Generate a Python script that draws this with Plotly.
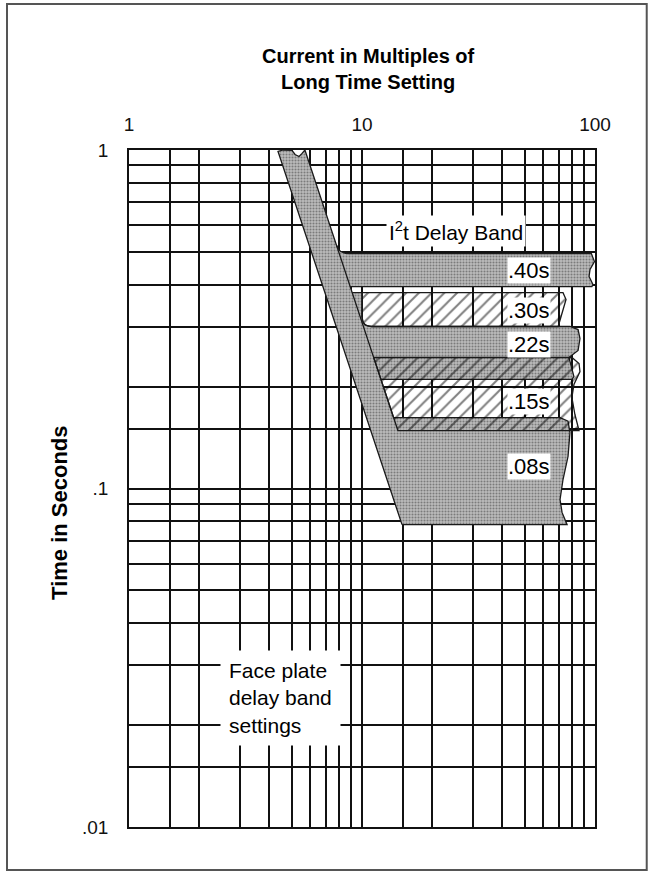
import numpy as np
import plotly.graph_objects as go

FONT = "Liberation Sans, Arial, Helvetica, sans-serif"

# ---------------- axes / grid values ----------------
grid_current = [1, 1.5, 2, 3, 4, 5, 6, 7, 8, 9, 10, 15, 20, 30, 40, 50, 60, 70, 80, 90, 100]
grid_time = [0.01, 0.015, 0.02, 0.03, 0.04, 0.05, 0.06, 0.07, 0.08, 0.09,
             0.1, 0.15, 0.2, 0.3, 0.4, 0.5, 0.6, 0.7, 0.8, 0.9, 1]
current_ticks = [1, 10, 100]
current_tick_text = ["1", "10", "100"]
time_ticks = [0.01, 0.1, 1]
time_tick_text = [".01", ".1", "1"]

# ---------------- long time pickup band (diagonal) ----------------
pickup_time = [1.0, 0.0782]
pickup_low = [4.36, 14.85]
pickup_high = [5.69, 19.4]
notch_current = [5.53, 5.37, 5.16, 5.01, 4.58]
notch_time = [0.977, 0.957, 0.970, 0.997, 1.0]

# ---------------- I2t delay bands ----------------
band_labels = [".40s", ".30s", ".22s", ".15s", ".08s"]
band_top = [0.494, 0.379, 0.301, 0.2438, 0.162]
band_bottom = [0.395, 0.301, 0.210, 0.1483, 0.0782]
band_hatched = [False, True, False, True, False]
label_time = [0.44, 0.336, 0.266, 0.181, 0.116]
label_current = 52

right40_current = [96.5, 99.5, 95.2, 94.3, 98.0, 97.0]
right40_time = [0.494, 0.468, 0.4436, 0.423, 0.4006, 0.395]
right30_current = [72.9, 75.1, 72.2, 69.5]
right30_time = [0.379, 0.3617, 0.3265, 0.301]
right22_current = [78.1, 84.6, 86.2, 84.6, 77.3, 81.2, 79.6]
right22_time = [0.301, 0.2949, 0.2774, 0.2557, 0.2438, 0.2142, 0.210]
right15_current = [79.6, 85.4, 86.2, 81.2, 79.6, 82.0, 85.4]
right15_time = [0.2438, 0.234, 0.2216, 0.2028, 0.1857, 0.1654, 0.1483]
right08_current = [70.8, 76.6, 78.1, 76.6, 72.9, 70.8, 72.2, 75.9]
right08_time = [0.162, 0.158, 0.1463, 0.1243, 0.1063, 0.0928, 0.085, 0.0782]
hatch30_left_current = 10.0


def edge(t, xs):
    lt0, lt1 = np.log10(pickup_time[0]), np.log10(pickup_time[1])
    f = (np.log10(t) - lt0) / (lt1 - lt0)
    return float(10 ** (np.log10(xs[0]) + f * (np.log10(xs[1]) - np.log10(xs[0]))))


def mid(t):
    return float(np.sqrt(edge(t, pickup_low) * edge(t, pickup_high)))


def bez(p0, p1, p2, n=7):
    pts = []
    for s in np.linspace(0, 1, n):
        lx = ((1 - s) ** 2 * np.log10(p0[0]) + 2 * (1 - s) * s * np.log10(p1[0])
              + s ** 2 * np.log10(p2[0]))
        ly = ((1 - s) ** 2 * np.log10(p0[1]) + 2 * (1 - s) * s * np.log10(p1[1])
              + s ** 2 * np.log10(p2[1]))
        pts.append((float(10 ** lx), float(10 ** ly)))
    return pts


def zipped(cs, ts):
    return list(zip(cs, ts))


STIPPLE = dict(shape=".", bgcolor="#bdbdbd", fgcolor="#3a3a3a", size=3, solidity=0.4)
HATCH = dict(shape="/", bgcolor="rgba(0,0,0,0)", fgcolor="#000000", size=9, solidity=0.22)
EDGE = "#1a1a1a"

fig = go.Figure()


def add_fill(pts, pattern, fillcolor):
    xs = [p[0] for p in pts] + [pts[0][0]]
    ys = [p[1] for p in pts] + [pts[0][1]]
    fig.add_trace(go.Scatter(x=xs, y=ys, mode="lines", fill="toself",
                             fillcolor=fillcolor, fillpattern=pattern,
                             line=dict(width=0), hoverinfo="skip", showlegend=False))


def add_line(pts, width=1.3, close=False):
    xs = [p[0] for p in pts]
    ys = [p[1] for p in pts]
    if close:
        xs.append(pts[0][0])
        ys.append(pts[0][1])
    fig.add_trace(go.Scatter(x=xs, y=ys, mode="lines",
                             line=dict(color=EDGE, width=width),
                             hoverinfo="skip", showlegend=False))


# .40s band (gray)
t0, b0 = band_top[0], band_bottom[0]
c0 = edge(t0, pickup_high)
o40 = bez((edge(t0 * 1.06, pickup_high), t0 * 1.06), (c0, t0), (c0 * 1.09, t0))
o40 += zipped(right40_current, right40_time)
o40 += [(edge(b0, pickup_high), b0)]
f40 = o40 + [(mid(b0), b0), (mid(t0 * 1.06), t0 * 1.06)]

# .22s band (gray) with tail up to .30s top
t2, b2 = band_top[2], band_bottom[2]
tail_top = band_top[1]
o22 = [(edge(tail_top, pickup_high), tail_top), (hatch30_left_current, tail_top)]
o22 += bez((hatch30_left_current, t2 * 1.07), (hatch30_left_current, t2),
           (hatch30_left_current * 1.1, t2))
o22 += zipped(right22_current, right22_time)
o22 += [(edge(b2, pickup_high), b2)]
f22 = o22 + [(mid(b2), b2), (mid(tail_top), tail_top)]

# .08s band (gray)
t4, b4 = band_top[4], band_bottom[4]
o08 = [(edge(t4, pickup_high), t4)] + zipped(right08_current, right08_time)
o08 += [(edge(b4, pickup_low), b4)]
f08 = o08 + [(edge(t4, pickup_low), t4)]

# diagonal pickup band
fdiag = [(pickup_high[1], pickup_time[1]), (pickup_high[0], pickup_time[0])]
fdiag += zipped(notch_current, notch_time)
fdiag += [(pickup_low[0], 0.99), (pickup_low[1], pickup_time[1])]
odiag = [(edge(t4, pickup_high), t4)] + fdiag[1:]

for pts in (f40, f22, f08, fdiag):
    add_fill(pts, STIPPLE, "#8e8e8e")
for pts in (o40, o22, o08, odiag):
    add_line(pts)

# .30s band (hatched)
t1, b1 = band_top[1], band_bottom[1]
h30 = [(hatch30_left_current, t1)] + zipped(right30_current, right30_time)
h30 += [(hatch30_left_current * 1.1, b1)]
h30 += bez((hatch30_left_current * 1.1, b1), (hatch30_left_current, b1),
           (hatch30_left_current, b1 * 1.07))[1:]

# .15s band (hatched)
t3, b3 = band_top[3], band_bottom[3]
h15 = [(edge(t3, pickup_high), t3)] + zipped(right15_current, right15_time)
h15 += [(edge(b3, pickup_high), b3), (edge(t4, pickup_high), t4)]

for pts in (h30, h15):
    add_fill(pts, HATCH, "rgba(0,0,0,0)")
    add_line(pts, width=1.3, close=True)

# ---------------- annotations ----------------
ann = []
for lab, lt in zip(band_labels, label_time):
    ann.append(dict(x=np.log10(label_current), y=np.log10(lt), xref="x", yref="y",
                    text=lab, showarrow=False, bgcolor="white", borderpad=0,
                    font=dict(size=22, color="#000", family=FONT)))

ann.append(dict(x=np.log10(25.3), y=np.log10(0.577), xref="x", yref="y",
                text="I<sup>2</sup>t Delay Band", showarrow=False, bgcolor="white",
                borderpad=2, font=dict(size=21, color="#000", family=FONT)))
ann.append(dict(x=np.log10(4.45), y=np.log10(0.0241), xref="x", yref="y",
                text="Face plate<br>delay band<br>settings", align="left",
                showarrow=False, bgcolor="white", borderpad=8,
                font=dict(size=21, color="#000", family=FONT)))
ann.append(dict(x=0.513, y=1.119, xref="paper", yref="paper",
                xanchor="center", yanchor="middle",
                text="<b>Current in Multiples of<br>Long Time Setting</b>",
                showarrow=False, font=dict(size=20, color="#000", family=FONT)))
ann.append(dict(x=-0.148, y=0.464, xref="paper", yref="paper",
                xanchor="center", yanchor="middle",
                text="<b>Time in Seconds</b>", textangle=-90,
                showarrow=False, font=dict(size=22, color="#000", family=FONT)))

GRID = dict(showgrid=True, gridcolor="#111111", gridwidth=1.5)
axis_common = dict(type="log", ticks="", showline=True, mirror=True,
                   linecolor="#111111", linewidth=1.5, zeroline=False,
                   tickmode="array", **GRID,
                   tickfont=dict(size=19, color="#111", family=FONT))

fig.update_layout(
    width=650, height=873,
    margin=dict(l=129, r=55, t=150, b=46),
    paper_bgcolor="white", plot_bgcolor="white",
    showlegend=False,
    font=dict(family=FONT, color="#111"),
    xaxis=dict(range=[0, 2], side="top", tickvals=current_ticks,
               ticktext=current_tick_text, ticklabelstandoff=10,
               minor=dict(tickmode="array", tickvals=grid_current, ticks="", **GRID),
               **axis_common),
    yaxis=dict(range=[-2, 0], tickvals=time_ticks,
               ticktext=time_tick_text, ticklabelstandoff=15,
               minor=dict(tickmode="array", tickvals=grid_time, ticks="", **GRID),
               **axis_common),
    annotations=ann,
    shapes=[dict(type="rect", xref="paper", yref="paper",
                 x0=-0.2618, x1=1.111, y0=-0.0635, y1=1.2157,
                 line=dict(color="#555", width=2), layer="below")],
)

fig.write_html("out.html", config={"displayModeBar": False},
               post_script="document.body.style.margin='0px';document.body.style.padding='0px';")
